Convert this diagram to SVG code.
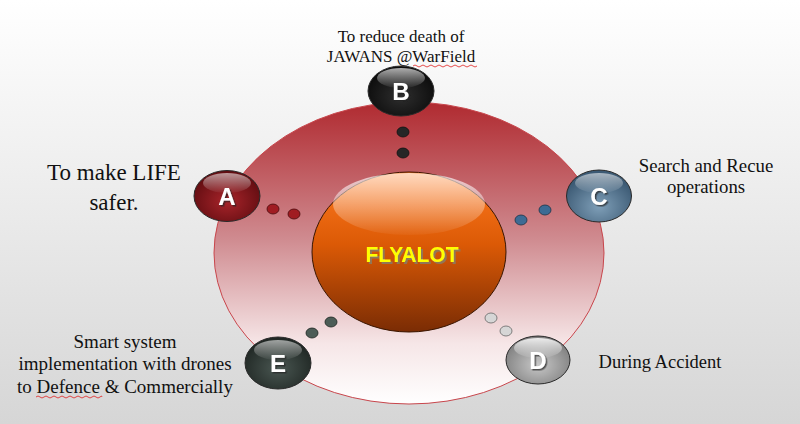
<svg xmlns="http://www.w3.org/2000/svg" width="800" height="424" viewBox="0 0 800 424">
  <defs>
    <linearGradient id="bg" x1="0" y1="0" x2="0" y2="1">
      <stop offset="0" stop-color="#ffffff"/>
      <stop offset="1" stop-color="#d6d6d6"/>
    </linearGradient>
    <linearGradient id="ring" x1="0" y1="0" x2="0" y2="1">
      <stop offset="0" stop-color="#b02a30"/>
      <stop offset="0.45" stop-color="#cf8a8f"/>
      <stop offset="0.8" stop-color="#f6e6e7"/>
      <stop offset="1" stop-color="#ffffff"/>
    </linearGradient>
    <linearGradient id="core" x1="0" y1="0" x2="0" y2="1">
      <stop offset="0" stop-color="#ff7a20"/>
      <stop offset="0.45" stop-color="#dc5a06"/>
      <stop offset="1" stop-color="#7a2c04"/>
    </linearGradient>
    <linearGradient id="shine" x1="0" y1="0" x2="0" y2="1">
      <stop offset="0" stop-color="#ffffff" stop-opacity="0.95"/>
      <stop offset="1" stop-color="#ffffff" stop-opacity="0.05"/>
    </linearGradient>
    <radialGradient id="gA" cx="0.5" cy="0.6" r="0.6">
      <stop offset="0" stop-color="#a8242a"/>
      <stop offset="1" stop-color="#5e0c10"/>
    </radialGradient>
    <radialGradient id="gB" cx="0.5" cy="0.6" r="0.6">
      <stop offset="0" stop-color="#2e2e2e"/>
      <stop offset="1" stop-color="#0a0a0a"/>
    </radialGradient>
    <radialGradient id="gC" cx="0.5" cy="0.7" r="0.6">
      <stop offset="0" stop-color="#7f9fb8"/>
      <stop offset="1" stop-color="#3c5a74"/>
    </radialGradient>
    <radialGradient id="gD" cx="0.5" cy="0.6" r="0.6">
      <stop offset="0" stop-color="#c8c8c8"/>
      <stop offset="1" stop-color="#7c7c7c"/>
    </radialGradient>
    <radialGradient id="gE" cx="0.5" cy="0.6" r="0.6">
      <stop offset="0" stop-color="#4a5752"/>
      <stop offset="1" stop-color="#1e2522"/>
    </radialGradient>
    <filter id="ds" x="-20%" y="-20%" width="140%" height="140%">
      <feDropShadow dx="1.5" dy="1.5" stdDeviation="0.6" flood-color="#222" flood-opacity="0.7"/>
    </filter>
    <filter id="ds2" x="-20%" y="-20%" width="140%" height="140%">
      <feDropShadow dx="2" dy="2" stdDeviation="0.4" flood-color="#8a7a60" flood-opacity="0.9"/>
    </filter>
    <style>
      .lbl{font-family:"Liberation Serif","Times New Roman",serif;fill:#111;text-anchor:middle}
      .let{font-family:"Liberation Sans",Arial,sans-serif;font-weight:bold;font-size:24px;fill:#fff;text-anchor:middle;filter:url(#ds)}
      .edge{stroke:#2a2a2a;stroke-width:1}
      .sq{fill:none;stroke:#e02020;stroke-width:0.8}
    </style>
  </defs>

  <rect width="800" height="424" fill="url(#bg)"/>

  <g id="ring-bg">
    <ellipse cx="409" cy="253" rx="195" ry="151" fill="url(#ring)" stroke="#c8464c" stroke-width="1"/>
  </g>

  <g id="connectors">
    <g fill="#262626" stroke="#111" stroke-width="0.8">
      <ellipse cx="403" cy="132" rx="6" ry="5"/>
      <ellipse cx="403" cy="153" rx="6" ry="5"/>
    </g>
    <g fill="#a01c22" stroke="#4a0a0c" stroke-width="0.8">
      <ellipse cx="273" cy="209" rx="6" ry="5"/>
      <ellipse cx="294" cy="214" rx="6" ry="5"/>
    </g>
    <g fill="#3d6b94" stroke="#1c3348" stroke-width="0.8">
      <ellipse cx="545" cy="210" rx="6" ry="5"/>
      <ellipse cx="521" cy="220" rx="6" ry="5"/>
    </g>
    <g fill="#4c5c56" stroke="#1c2420" stroke-width="0.8">
      <ellipse cx="331" cy="322" rx="6" ry="5"/>
      <ellipse cx="312" cy="333" rx="6" ry="5"/>
    </g>
    <g fill="#d6d6d6" stroke="#666" stroke-width="0.8">
      <ellipse cx="491" cy="318" rx="6" ry="5"/>
      <ellipse cx="506" cy="331" rx="6" ry="5"/>
    </g>
  </g>

  <g id="center">
    <ellipse cx="409" cy="252" rx="97" ry="80" fill="url(#core)" stroke="#3a1500" stroke-width="1"/>
    <ellipse cx="409" cy="204" rx="76" ry="31" fill="url(#shine)" opacity="0.75"/>
    <text x="412" y="262" font-family="'Liberation Sans',Arial,sans-serif" font-weight="bold" font-size="22" fill="#ffff00" text-anchor="middle" textLength="93" lengthAdjust="spacingAndGlyphs" filter="url(#ds2)">FLYALOT</text>
  </g>

  <g id="node-B">
    <ellipse class="edge" cx="401" cy="91" rx="33" ry="25" fill="url(#gB)"/>
    <ellipse cx="401" cy="78" rx="24" ry="10" fill="url(#shine)" opacity="0.7"/>
    <text class="let" x="401" y="100">B</text>
  </g>

  <g id="node-A">
    <ellipse class="edge" cx="227" cy="196" rx="33" ry="25.5" fill="url(#gA)"/>
    <ellipse cx="227" cy="183" rx="24" ry="10" fill="url(#shine)" opacity="0.6"/>
    <text class="let" x="227" y="205">A</text>
  </g>

  <g id="node-C">
    <ellipse class="edge" cx="599" cy="196" rx="32.5" ry="26" fill="url(#gC)"/>
    <ellipse cx="599" cy="183" rx="24" ry="10" fill="url(#shine)" opacity="0.6"/>
    <text class="let" x="599" y="205">C</text>
  </g>

  <g id="node-D">
    <ellipse class="edge" cx="538" cy="360" rx="32" ry="24" fill="url(#gD)"/>
    <ellipse cx="538" cy="348" rx="24" ry="10" fill="url(#shine)" opacity="0.9"/>
    <text class="let" x="538" y="369">D</text>
  </g>

  <g id="node-E">
    <ellipse class="edge" cx="278" cy="363" rx="33" ry="26" fill="url(#gE)"/>
    <ellipse cx="278" cy="350" rx="24" ry="10" fill="url(#shine)" opacity="0.6"/>
    <text class="let" x="278" y="372">E</text>
  </g>

  <g id="labels">
    <text class="lbl" font-size="17" x="401" y="42">To reduce death of</text>
    <text class="lbl" font-size="17" x="401" y="62">JAWANS @WarField</text>
    <path class="sq" d="M413 66 q2 -2 4 0 t4 0 t4 0 t4 0 t4 0 t4 0 t4 0 t4 0 t4 0 t4 0 t4 0 t4 0 t4 0 t4 0 t4 0 t4 0"/>

    <text class="lbl" font-size="23" x="114" y="180">To make LIFE</text>
    <text class="lbl" font-size="23" x="114" y="210">safer.</text>

    <text class="lbl" font-size="18.8" x="706" y="172">Search and Recue</text>
    <text class="lbl" font-size="18.8" x="706" y="193">operations</text>

    <text class="lbl" font-size="18.5" x="660" y="368">During Accident</text>

    <text class="lbl" font-size="19" x="125" y="348">Smart system</text>
    <text class="lbl" font-size="19" x="125" y="370">implementation with drones</text>
    <text class="lbl" font-size="19" x="125" y="393">to Defence &amp; Commercially</text>
    <path class="sq" d="M36 397 q2 -2 4 0 t4 0 t4 0 t4 0 t4 0 t4 0 t4 0 t4 0 t4 0 t4 0 t4 0 t4 0 t4 0 t4 0 t4 0 t4 0 t2 0"/>
  </g>
</svg>
